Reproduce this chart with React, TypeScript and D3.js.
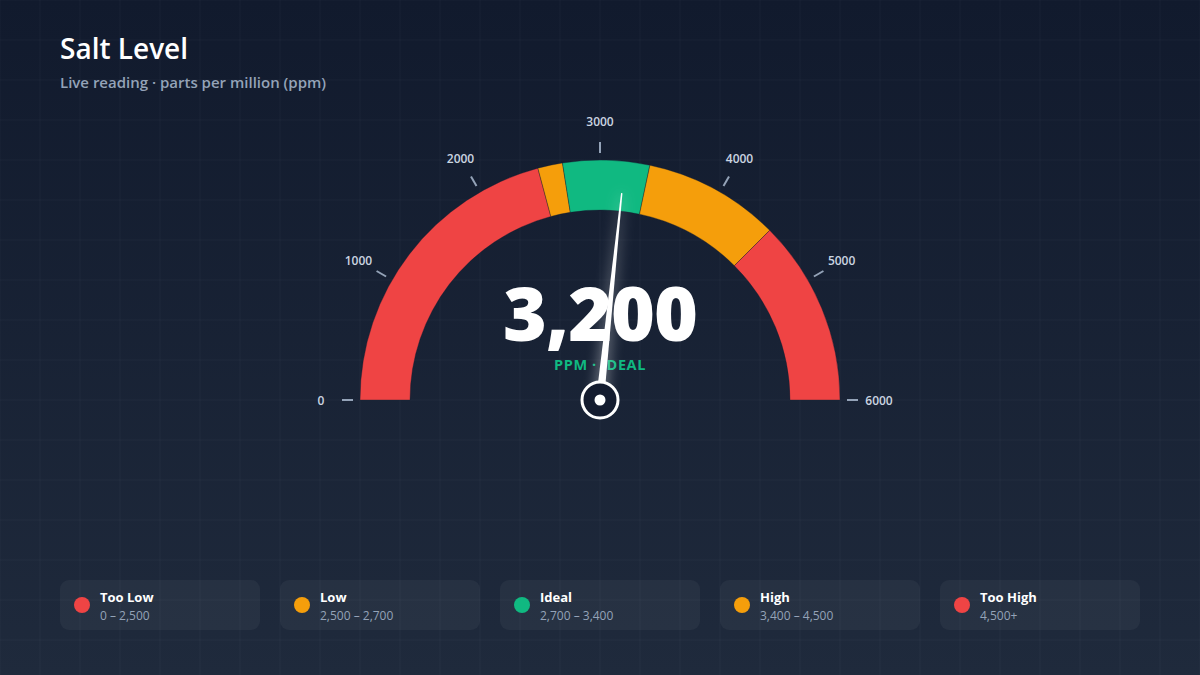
import React from "react";
import * as d3 from "d3";

const W = 1200;
const H = 675;

const bandNames = ["Too Low", "Low", "Ideal", "High", "Too High"];
const bandStarts = [0, 2500, 2700, 3400, 4500];
const bandEnds = [2500, 2700, 3400, 4500, 6000];
const bandColors = ["#ef4444", "#f59e0b", "#10b981", "#f59e0b", "#ef4444"];
const bandRanges = ["0 – 2,500", "2,500 – 2,700", "2,700 – 3,400", "3,400 – 4,500", "4,500+"];
const tickValues = [0, 1000, 2000, 3000, 4000, 5000, 6000];
const reading = 3200;
const readingStatus = "IDEAL";

const FONT = "'Segoe UI', 'Open Sans', 'Noto Sans', sans-serif";

export default function App() {
  const cx = 600;
  const cy = 400;
  const outerR = 240;
  const innerR = 190;

  const angle = d3.scaleLinear().domain([0, 6000]).range([-Math.PI / 2, Math.PI / 2]);
  const arc = d3.arc<any>().innerRadius(innerR).outerRadius(outerR);

  const gridX = d3.range(0, W + 1, 40);
  const gridY = d3.range(0, H + 1, 40);

  const a = angle(reading);
  const needleLen = 208;
  const tipX = cx + needleLen * Math.sin(a);
  const tipY = cy - needleLen * Math.cos(a);
  const baseW = 4;
  const px = Math.cos(a) * baseW;
  const py = Math.sin(a) * baseW;
  const tipW = 0.7;
  const needlePath = `M${cx - px},${cy - py} L${tipX - Math.cos(a) * tipW},${tipY - Math.sin(a) * tipW} L${tipX + Math.cos(a) * tipW},${tipY + Math.sin(a) * tipW} L${cx + px},${cy + py} Z`;

  const legendX = d3.scaleBand<number>().domain(d3.range(5)).range([60, 1140]).paddingInner(1 / 11).paddingOuter(0);

  return (
    <svg width={W} height={H} style={{ display: "block", position: "absolute", left: 0, top: 0 }} fontFamily={FONT}>
      <defs>
        <linearGradient id="bg" x1="0" y1="0" x2="0" y2="1">
          <stop offset="0%" stopColor="#111a2d" />
          <stop offset="100%" stopColor="#1f2a3c" />
        </linearGradient>
        <filter id="glow" x="-200%" y="-50%" width="500%" height="200%">
          <feGaussianBlur stdDeviation="7" />
        </filter>
      </defs>
      <rect width={W} height={H} fill="url(#bg)" />
      {gridX.map((x) => (
        <line key={"gx" + x} x1={x} x2={x} y1={0} y2={H} stroke="#ffffff" strokeOpacity={0.035} strokeWidth={1} />
      ))}
      {gridY.map((y) => (
        <line key={"gy" + y} x1={0} x2={W} y1={y} y2={y} stroke="#ffffff" strokeOpacity={0.035} strokeWidth={1} />
      ))}

      <text x={60} y={59} fill="#ffffff" fontSize={28} fontWeight={600}>Salt Level</text>
      <text x={60} y={88} fill="#94a3b8" fontSize={15} fontWeight={600}>Live reading · parts per million (ppm)</text>

      <g transform={`translate(${cx},${cy})`}>
        {bandStarts.map((s, i) => (
          <path
            key={"band" + i}
            d={arc({ startAngle: angle(s), endAngle: angle(bandEnds[i]) }) as string}
            fill={bandColors[i]}
            stroke="#141c2f"
            strokeOpacity={0.6}
            strokeWidth={0.6}
          />
        ))}
        {tickValues.map((t) => {
          const ta = angle(t);
          const s = Math.sin(ta);
          const c = Math.cos(ta);
          return (
            <g key={"t" + t}>
              <line x1={s * 247} y1={-c * 247} x2={s * 258} y2={-c * 258} stroke="#94a3b8" strokeWidth={2} />
              <text
                x={s * 279}
                y={-c * 279}
                fill="#cbd5e1"
                fontSize={12}
                fontWeight={600}
                textAnchor="middle"
                dominantBaseline="central"
              >
                {t}
              </text>
            </g>
          );
        })}
      </g>

      <text x={cx} y={341} fill="#ffffff" fontSize={75} fontWeight={800} textAnchor="middle" fontFamily="'Open Sans', sans-serif" letterSpacing={-1}>
        {d3.format(",")(reading)}
      </text>
      <text x={cx} y={370} fill="#10b981" fontSize={14.5} fontWeight={700} textAnchor="middle" letterSpacing={0.6}>
        {"PPM · " + readingStatus}
      </text>

      <path d={needlePath} fill="#ffffff" opacity={0.6} filter="url(#glow)" />
      <path d={needlePath} fill="#ffffff" />
      <circle cx={cx} cy={cy} r={18} fill="#141c2f" stroke="#ffffff" strokeWidth={3} />
      <circle cx={cx} cy={cy} r={5.5} fill="#ffffff" />

      {bandNames.map((n, i) => {
        const x = legendX(i) as number;
        const w = legendX.bandwidth();
        return (
          <g key={"lg" + i} transform={`translate(${x},580)`}>
            <rect width={w} height={50} rx={9} fill="#ffffff" fillOpacity={0.045} />
            <circle cx={22} cy={25} r={8} fill={bandColors[i]} />
            <text x={40} y={22} fill="#ffffff" fontSize={13} fontWeight={700}>{n}</text>
            <text x={40} y={40} fill="#94a3b8" fontSize={12}>{bandRanges[i]}</text>
          </g>
        );
      })}
    </svg>
  );
}
